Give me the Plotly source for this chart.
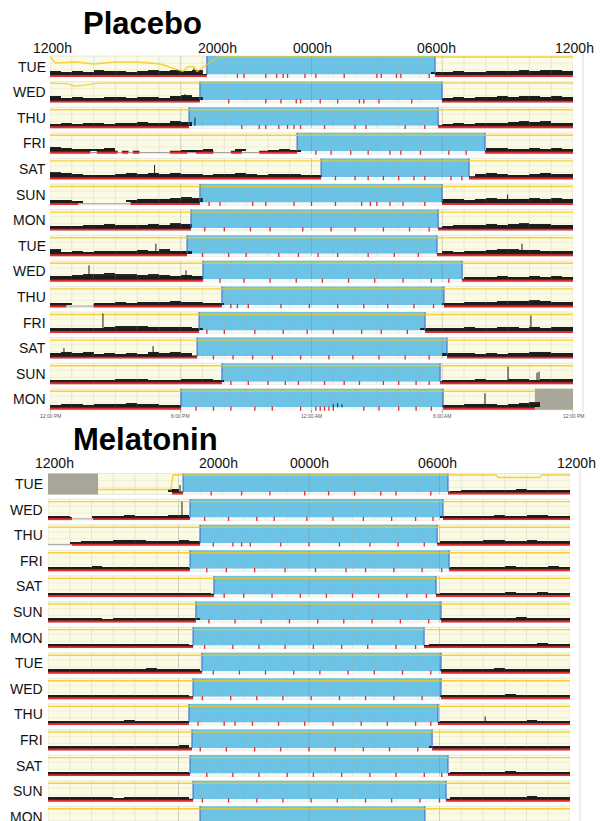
import plotly.graph_objects as go

W, H = 603, 821
FONT = "Liberation Sans, Arial, Helvetica, sans-serif"

# ---------------- data ----------------
days = ["TUE", "WED", "THU", "FRI", "SAT", "SUN", "MON",
        "TUE", "WED", "THU", "FRI", "SAT", "SUN", "MON"]
header_ticks = [0, 8, 12, 18, 24]              # hours after 12:00 noon
header_text = ["1200h", "2000h", "0000h", "0600h", "1200h"]
clock_ticks = [0, 6, 12, 18, 24]
clock_text = ["12:00 PM", "6:00 PM", "12:00 AM", "6:00 AM", "12:00 PM"]

# rest interval (hours after 12:00 noon)
placebo_onset = [7.20, 6.88, 6.38, 11.34, 12.44, 6.88, 6.47, 6.29, 7.02, 7.89, 6.84, 6.75, 7.89, 6.01]
placebo_offset = [17.67, 17.99, 17.81, 19.96, 19.23, 17.99, 17.81, 17.76, 18.91, 18.08, 17.21, 18.22, 17.90, 18.04]
melatonin_onset = [6.21, 6.53, 6.99, 6.53, 7.63, 6.80, 6.67, 7.08, 6.67, 6.48, 6.62, 6.53, 6.67, 6.99]
melatonin_offset = [18.39, 18.16, 17.89, 18.44, 17.84, 18.07, 17.29, 18.07, 18.07, 17.93, 17.66, 18.39, 18.30, 17.33]

# recording limits
placebo_rec_start = [0] * 14
placebo_rec_end = [24] * 13 + [22.25]
melatonin_rec_start = [5.7] + [0] * 13
melatonin_rec_end = [24] * 14

# off-wrist gaps (row, start h, end h)
placebo_gaps = [(3, 1.85, 2.15), (3, 3.1, 3.3), (3, 3.6, 3.8), (3, 4.1, 5.5), (3, 6.3, 6.7),
                (3, 7.5, 8.3), (3, 8.8, 9.6), (5, 1.3, 3.7), (9, 0.75, 2.0)]
melatonin_gaps = [(1, 1.1, 2.07), (2, 0.0, 1.1)]

# unavailable data blocks (row, start h, end h)
placebo_grayboxes = [(13, 22.25, 24)]
melatonin_grayboxes = [(0, 0, 2.3)]

# activity levels in 30-min bins: *_pre starts at 12:00 noon, *_post ends at 12:00 noon
placebo_pre = [
    [3, 2, 3, 2, 4, 3, 3, 2, 3, 4, 3, 4, 3, 4],
    [4, 2, 3, 2, 2, 3, 3, 2, 3, 3, 2, 4, 5, 3],
    [2, 3, 2, 3, 3, 2, 3, 3, 4, 3, 3, 5, 4],
    [4, 3, 2, 2, 2, 3, 4, 4, 0, 1, 2, 0, 1, 1, 2, 1, 1, 2, 1, 0, 1, 2, 1],
    [5, 4, 3, 2, 2, 1, 3, 4, 3, 4, 3, 4, 3, 3, 2, 3, 3, 4, 3, 2, 3, 3, 3, 2, 2],
    [2, 2, 1, 0, 0, 0, 0, 2, 3, 3, 3, 4, 5, 4],
    [2, 2, 2, 3, 3, 4, 3, 3, 3, 4, 3, 5, 4],
    [5, 2, 3, 2, 3, 3, 3, 3, 4, 3, 5, 3, 3],
    [3, 3, 4, 5, 5, 6, 5, 5, 4, 5, 4, 3, 4, 3],
    [2, 1, 0, 0, 2, 2, 3, 2, 3, 3, 3, 4, 3, 3, 2, 2],
    [2, 2, 2, 2, 2, 3, 4, 4, 4, 3, 3, 3, 3, 2],
    [3, 4, 3, 4, 2, 3, 2, 3, 2, 4, 3, 4, 3],
    [2, 2, 2, 2, 2, 2, 3, 3, 3, 2, 2, 2, 3, 3, 3, 2],
    [2, 3, 3, 2, 3, 3, 3, 4, 3, 3, 2, 2],
]
placebo_post = [
    [2, 2, 3, 2, 2, 3, 3, 3, 4, 3, 4, 4, 3],
    [2, 3, 2, 3, 3, 4, 3, 4, 4, 3, 4, 3],
    [2, 3, 2, 3, 3, 3, 4, 5, 4, 5, 3, 3],
    [3, 3, 2, 2, 3, 2, 3, 2],
    [3, 4, 3, 2, 2, 3, 4, 3, 3],
    [3, 3, 2, 3, 4, 3, 3, 3, 4, 3, 4, 3],
    [2, 3, 3, 3, 4, 3, 4, 5, 4, 4, 3, 3],
    [3, 2, 3, 3, 4, 5, 5, 4, 4, 3, 3, 3],
    [2, 2, 2, 3, 2, 2, 3, 2, 3, 2],
    [2, 2, 3, 3, 3, 4, 4, 4, 5, 4, 3, 3],
    [2, 2, 2, 2, 3, 2, 2, 3, 3, 2, 3, 2, 3, 3],
    [3, 3, 3, 2, 3, 2, 3, 3, 4, 4, 3, 3],
    [2, 2, 2, 3, 2, 2, 3, 3, 2, 3, 3, 3],
    [2, 2, 3, 3, 3, 2, 3, 4, 5, 4, 4, 3],
]
melatonin_pre = [
    [0, 0, 0, 0, 0, 0, 0, 0, 0, 0, 0, 3],
    [1, 1, 0, 0, 2, 2, 2, 3, 2, 2, 2, 3, 3],
    [0, 0, 1, 2, 2, 2, 3, 3, 3, 2, 2, 2, 3, 2],
    [2, 2, 2, 2, 3, 2, 2, 2, 2, 2, 2, 2, 2],
    [1, 1, 1, 1, 1, 1, 1, 1, 1, 1, 1, 1, 1, 1, 1],
    [2, 2, 2, 2, 2, 1, 2, 2, 2, 2, 2, 2, 2, 2],
    [2, 2, 1, 2, 2, 2, 2, 2, 2, 2, 2, 2, 2],
    [2, 2, 2, 2, 2, 2, 2, 2, 2, 3, 2, 2, 2, 2],
    [2, 1, 2, 2, 2, 2, 2, 2, 2, 2, 2, 2, 2],
    [2, 2, 2, 2, 2, 2, 2, 3, 2, 2, 2, 2, 2],
    [2, 2, 2, 2, 2, 2, 2, 2, 2, 2, 2, 2, 3],
    [2, 2, 2, 1, 2, 2, 2, 2, 2, 2, 2, 2, 2],
    [2, 2, 2, 2, 2, 2, 1, 2, 2, 2, 2, 2, 2],
    [2, 2, 2, 2, 2, 2, 2, 2, 2, 1, 2, 2, 2, 2],
]
melatonin_post = [
    [1, 2, 2, 2, 2, 2, 3, 2, 2, 2, 2],
    [2, 2, 2, 2, 2, 3, 2, 2, 3, 3, 2, 2],
    [2, 2, 2, 2, 3, 3, 2, 2, 3, 2, 2, 2],
    [2, 2, 2, 2, 2, 3, 2, 2, 2, 3, 2],
    [2, 2, 2, 2, 2, 2, 3, 2, 2, 3, 2, 2],
    [2, 2, 2, 2, 2, 2, 2, 3, 2, 2, 2, 2],
    [2, 2, 2, 2, 2, 2, 2, 2, 2, 2, 3, 2, 2],
    [2, 2, 2, 2, 2, 3, 2, 2, 2, 2, 2, 2],
    [2, 2, 2, 2, 2, 2, 3, 2, 2, 2, 2, 2],
    [2, 2, 2, 2, 2, 2, 2, 2, 3, 2, 2, 2],
    [2, 2, 2, 2, 2, 2, 2, 2, 2, 2, 2, 2, 2],
    [2, 2, 2, 2, 2, 3, 2, 2, 2, 2, 2],
    [2, 2, 2, 2, 2, 2, 2, 3, 2, 2, 2],
    [2, 2, 2, 2, 2, 2, 2, 2, 2, 2, 2, 2, 2],
]

# isolated tall activity counts (row, hour, level)
placebo_spikes = [(0, 6.6, 6), (1, 6.2, 6), (2, 6.65, 8), (4, 4.8, 12), (5, 21.0, 8),
                  (7, 4.86, 10), (7, 21.66, 10), (8, 1.79, 14), (8, 6.24, 9), (10, 2.43, 17),
                  (10, 22.07, 15), (11, 4.73, 10), (11, 0.64, 8), (12, 21.02, 15), (12, 22.35, 9),
                  (12, 22.44, 10), (13, 19.96, 14), (13, 13.0, 3), (13, 13.2, 4), (13, 13.4, 3)]
melatonin_spikes = [(0, 6.07, 7), (1, 6.16, 16), (9, 20.1, 6)]

# wake epochs inside the rest interval (hours)
placebo_wake = [
    [8.6, 8.9, 9.9, 10.4, 10.7, 10.9, 11.7, 12.2, 13.5, 15.0, 15.2, 15.9, 16.1, 17.4],
    [8.2, 9.9, 10.6, 11.3, 11.5, 12.4, 13.2, 14.2, 14.4, 15.1, 16.6],
    [8.8, 9.6, 9.9, 10.5, 10.9, 11.2, 11.5, 12.6, 14.0, 14.5, 16.3, 17.2],
    [12.2, 12.9, 13.8, 14.6, 15.6, 16.1, 17.0, 18.3, 19.1],
    [13.1, 14.0, 14.6, 15.3, 16.0, 16.7, 17.2, 18.4, 18.9],
    [7.3, 7.8, 9.3, 9.9, 11.2, 12.0, 13.1, 14.3, 14.7, 15.0, 15.6, 16.2, 17.2],
    [7.1, 8.0, 9.2, 10.1, 11.6, 12.9, 14.0, 15.3, 16.5, 17.4],
    [7.0, 8.2, 9.0, 10.5, 11.4, 12.3, 13.2, 14.6, 15.8, 16.9],
    [7.8, 8.9, 10.1, 11.3, 12.5, 13.7, 14.9, 16.2, 17.5, 18.3],
    [8.3, 8.6, 9.1, 10.6, 11.9, 13.2, 14.4, 15.5, 16.7, 17.6],
    [7.2, 8.0, 9.4, 10.7, 11.8, 13.0, 14.3, 15.2, 16.4],
    [7.5, 8.4, 9.3, 10.2, 11.5, 12.8, 13.9, 15.1, 16.3, 17.4],
    [8.3, 9.1, 10.0, 10.8, 11.4, 12.6, 13.5, 14.2, 15.3, 16.0, 16.8, 17.4],
    [6.7, 7.5, 8.3, 9.4, 10.2, 11.5, 12.2, 12.4, 12.6, 12.8, 13.0, 14.4, 15.1, 16.0, 16.8, 17.5],
]
melatonin_wake = [
    [7.5, 8.9, 10.2, 11.8, 12.9, 14.1, 15.3, 16.0, 17.6],
    [7.2, 8.3, 9.6, 10.4, 11.9, 13.1, 14.5, 15.8, 16.9, 17.7],
    [7.6, 8.5, 8.9, 9.3, 10.7, 12.0, 13.4, 14.8, 16.1, 17.3],
    [7.3, 8.2, 9.5, 10.9, 12.3, 13.7, 14.6, 15.9, 17.2, 18.1],
    [8.1, 9.0, 10.3, 11.6, 12.8, 14.0, 15.2, 16.5, 17.4],
    [7.4, 8.6, 9.8, 11.1, 12.4, 13.6, 14.9, 16.2, 17.5],
    [7.2, 8.5, 9.7, 10.9, 12.2, 13.5, 14.7, 16.0, 16.9],
    [7.6, 8.8, 10.0, 11.3, 12.5, 13.8, 15.0, 16.3, 17.6],
    [7.1, 8.4, 9.6, 10.8, 12.1, 13.4, 14.6, 15.9, 17.2],
    [6.9, 8.1, 8.6, 9.4, 10.6, 11.8, 13.1, 14.4, 15.6, 16.9, 17.6],
    [7.0, 8.2, 9.5, 10.7, 12.0, 13.2, 14.5, 15.7, 17.0],
    [7.3, 8.5, 9.7, 11.0, 12.2, 13.5, 14.8, 16.0, 17.3, 18.1],
    [7.1, 8.3, 9.6, 10.8, 12.1, 13.3, 14.6, 15.8, 17.1, 18.0],
    [7.4, 8.6, 9.9, 11.1, 12.4, 13.6, 14.9, 16.1, 16.9],
]

# light-level trace: rows with a non-flat profile (hours, depth below row top)
placebo_light = {
    0: ([0, 0.25, 1.2, 2.0, 3.0, 4.0, 5.05, 6.1, 6.3, 6.6, 6.75, 7.7, 24],
        [0.7, 7, 6, 8, 6, 6, 8, 15.5, 11, 10.5, 15.5, 1, 1]),
    1: ([0, 0.8, 1.1, 1.6, 2.2, 24], [1.5, 2, 4.5, 3.5, 1.5, 1.5]),
}
melatonin_light = {
    0: ([2.3, 5.65, 5.75, 20.6, 20.7, 22.6, 22.7, 24], [16, 16, 1.5, 1.5, 4, 4, 1.5, 1.5]),
}

# ---------------- styling / geometry ----------------
PERIOD = 25.6          # px per day row


def u(px):
    return px / PERIOD


ROW_H = u(21)
BLUE_H = u(18.5)
RED_Y = u(19.7)
BASE_Y = u(18.5)
LIGHT_DEPTH = 2.5

CREAM = "#fafae5"
BLUE = "#6bc4e7"
BLUE_EDGE = "#3c6fd4"
RED = "#e52a2a"
YELLOW = "#f5c814"
GRAYBOX = "#a8a799"
INK = "#1c1c1c"

fig = go.Figure()
shapes = []
annotations = []


def subtract(intervals, gaps):
    out = []
    for a, b in intervals:
        segs = [(a, b)]
        for g0, g1 in gaps:
            new = []
            for s0, s1 in segs:
                if g1 <= s0 or g0 >= s1:
                    new.append((s0, s1))
                else:
                    if g0 > s0:
                        new.append((s0, g0))
                    if g1 < s1:
                        new.append((g1, s1))
            segs = new
        out += [s for s in segs if s[1] - s[0] > 1e-6]
    return out


def add_panel(xa, ya, onset, offset, pre, post, rec_start, rec_end, gaps, grayboxes,
              spikes, wake, light):
    xref, yref = xa, ya
    n = len(onset)
    for i in range(n):
        shapes.append(dict(type="rect", xref=xref, yref=yref, x0=0, x1=24, y0=i, y1=i + ROW_H,
                           fillcolor=CREAM, line=dict(color="#dcdccb", width=0.6), layer="below"))
    for r, a, b in grayboxes:
        shapes.append(dict(type="rect", xref=xref, yref=yref, x0=a, x1=b, y0=r, y1=r + ROW_H,
                           fillcolor=GRAYBOX, line=dict(width=0), layer="below"))
    for i in range(n):
        on, off = onset[i], offset[i]
        shapes.append(dict(type="rect", xref=xref, yref=yref, x0=on, x1=off, y0=i, y1=i + BLUE_H,
                           fillcolor=BLUE, line=dict(width=0), layer="below"))
        shapes.append(dict(type="rect", xref=xref, yref=yref, x0=on, x1=off, y0=i + BLUE_H,
                           y1=i + ROW_H, fillcolor="#f6f8f8", line=dict(width=0), layer="below"))

    # grid
    gx, gy, mx, my, hx, hy = [], [], [], [], [], []
    for i in range(n):
        for h in range(1, 24):
            if h % 6 == 0:
                mx += [h, h, None]
                my += [i, i + ROW_H, None]
            else:
                gx += [h, h, None]
                gy += [i, i + ROW_H, None]
        for f in (0.28, 0.55):
            hx += [0, 24, None]
            hy += [i + f, i + f, None]
    fig.add_trace(go.Scatter(x=hx, y=hy, mode="lines", xaxis=xa, yaxis=ya, hoverinfo="skip",
                             line=dict(color="rgba(190,190,160,0.25)", width=0.6)))
    fig.add_trace(go.Scatter(x=gx, y=gy, mode="lines", xaxis=xa, yaxis=ya, hoverinfo="skip",
                             line=dict(color="rgba(170,170,140,0.30)", width=0.7)))
    fig.add_trace(go.Scatter(x=mx, y=my, mode="lines", xaxis=xa, yaxis=ya, hoverinfo="skip",
                             line=dict(color="rgba(120,120,110,0.40)", width=0.8)))

    # blue edges
    ex, ey = [], []
    for i in range(n):
        for h in (onset[i], offset[i]):
            ex += [h, h, None]
            ey += [i, i + BLUE_H, None]
    fig.add_trace(go.Scatter(x=ex, y=ey, mode="lines", xaxis=xa, yaxis=ya, hoverinfo="skip",
                             line=dict(color=BLUE_EDGE, width=1.1)))

    # light trace
    lx, ly = [], []
    for i in range(n):
        if i in light:
            hs, ds = light[i]
        else:
            hs, ds = [rec_start[i], rec_end[i]], [LIGHT_DEPTH, LIGHT_DEPTH]
        lx += list(hs) + [None]
        ly += [i + u(d) for d in ds] + [None]
    fig.add_trace(go.Scatter(x=lx, y=ly, mode="lines", xaxis=xa, yaxis=ya, hoverinfo="skip",
                             opacity=0.8, line=dict(color=YELLOW, width=1.4)))

    # gap lines, baseline, activity
    gpx, gpy, rx, ry, bx, by = [], [], [], [], [], []
    barx, bary, barb = [], [], []
    for i in range(n):
        row_gaps = [(a, b) for r, a, b in gaps if r == i]
        awake = [(rec_start[i], onset[i]), (offset[i], rec_end[i])]
        awake = [(a, b) for a, b in awake if b > a]
        segs = subtract(awake, row_gaps)
        for a, b in row_gaps:
            gpx += [a, b, None]
            gpy += [i + RED_Y, i + RED_Y, None]
        for a, b in segs:
            rx += [a, b, None]
            ry += [i + RED_Y, i + RED_Y, None]
            bx += [a, b, None]
            by += [i + BASE_Y, i + BASE_Y, None]
        bins = [(k * 0.5 + 0.25, v) for k, v in enumerate(pre[i])]
        bins += [((48 - len(post[i]) + k) * 0.5 + 0.25, v) for k, v in enumerate(post[i])]
        for c, v in bins:
            if v <= 0:
                continue
            if not any(a <= c <= b for a, b in segs):
                continue
            barx.append(c)
            bary.append(-u(v))
            barb.append(i + BASE_Y)
    fig.add_trace(go.Scatter(x=gpx, y=gpy, mode="lines", xaxis=xa, yaxis=ya, hoverinfo="skip",
                             line=dict(color="#8c8c8c", width=0.8)))
    fig.add_trace(go.Scatter(x=rx, y=ry, mode="lines", xaxis=xa, yaxis=ya, hoverinfo="skip",
                             line=dict(color=RED, width=2.6)))
    fig.add_trace(go.Bar(x=barx, y=bary, base=barb, width=0.5, xaxis=xa, yaxis=ya,
                         hoverinfo="skip", marker=dict(color=INK, line=dict(width=0))))
    fig.add_trace(go.Scatter(x=bx, y=by, mode="lines", xaxis=xa, yaxis=ya, hoverinfo="skip",
                             line=dict(color=INK, width=1.1)))

    # spikes
    sx, sy = [], []
    for r, h, v in spikes:
        sx += [h, h, None]
        sy += [r + BASE_Y, r + BASE_Y - u(v), None]
    fig.add_trace(go.Scatter(x=sx, y=sy, mode="lines", xaxis=xa, yaxis=ya, hoverinfo="skip",
                             line=dict(color=INK, width=1)))

    # wake epochs during rest
    wx, wy = [], []
    for i in range(n):
        for h in wake[i]:
            if onset[i] < h < offset[i]:
                wx.append(h)
                wy.append(i + u(19.8))
    fig.add_trace(go.Scatter(x=wx, y=wy, mode="markers", xaxis=xa, yaxis=ya, hoverinfo="skip",
                             marker=dict(symbol="line-ns", size=3,
                                         line=dict(color=RED, width=1.3))))


add_panel("x", "y", placebo_onset, placebo_offset, placebo_pre, placebo_post,
          placebo_rec_start, placebo_rec_end, placebo_gaps, placebo_grayboxes,
          placebo_spikes, placebo_wake, placebo_light)
add_panel("x2", "y2", melatonin_onset, melatonin_offset, melatonin_pre, melatonin_post,
          melatonin_rec_start, melatonin_rec_end, melatonin_gaps, melatonin_grayboxes,
          melatonin_spikes, melatonin_wake, melatonin_light)

# placebo small clock axis ticks
tx, ty = [], []
for h in clock_ticks:
    tx += [h, h, None]
    ty += [u(410 - 56), u(413 - 56), None]
fig.add_trace(go.Scatter(x=tx, y=ty, mode="lines", xaxis="x", yaxis="y", hoverinfo="skip",
                         line=dict(color="#777777", width=0.7)))

# ---------------- layout ----------------
P_TOP, M_TOP = 56.0, 473.5
p_vmin, p_vmax = -0.35, 14.5
m_vmin = -0.3
m_vmax = (H - M_TOP) / PERIOD
p_dom = [1 - (P_TOP + p_vmax * PERIOD) / H, 1 - (P_TOP + p_vmin * PERIOD) / H]
m_dom = [0, 1 - (M_TOP + m_vmin * PERIOD) / H]


def ypx(px):
    return 1 - px / H


for i, d in enumerate(days):
    annotations.append(dict(text=d, xref="paper", yref="y", x=48 / W, y=i + ROW_H / 2,
                            xanchor="right", yanchor="middle", showarrow=False,
                            font=dict(family=FONT, size=14, color="#111")))
    annotations.append(dict(text=d, xref="paper", yref="y2", x=45 / W, y=i + ROW_H / 2,
                            xanchor="right", yanchor="middle", showarrow=False,
                            font=dict(family=FONT, size=14, color="#111")))

p_shift = [2, -7, 1, -6, 1]
m_shift = [6, -4, 0, -2, 6]
for h, t, s in zip(header_ticks, header_text, p_shift):
    annotations.append(dict(text=t, xref="x", yref="paper", x=h, y=ypx(48), xshift=s,
                            xanchor="center", yanchor="middle", showarrow=False,
                            font=dict(family=FONT, size=14, color="#111")))
for h, t, s in zip(header_ticks, header_text, m_shift):
    annotations.append(dict(text=t, xref="x2", yref="paper", x=h, y=ypx(463), xshift=s,
                            xanchor="center", yanchor="middle", showarrow=False,
                            font=dict(family=FONT, size=14, color="#111")))
for h, t in zip(clock_ticks, clock_text):
    annotations.append(dict(text=t, xref="x", yref="paper", x=h, y=ypx(416),
                            xanchor="center", yanchor="middle", showarrow=False,
                            font=dict(family=FONT, size=5, color="#555")))

annotations.append(dict(text="<b>Placebo</b>", xref="paper", yref="paper", x=142 / W, y=ypx(24),
                        xanchor="center", yanchor="middle", showarrow=False,
                        font=dict(family=FONT, size=31, color="#000")))
annotations.append(dict(text="<b>Melatonin</b>", xref="paper", yref="paper", x=145 / W, y=ypx(439),
                        xanchor="center", yanchor="middle", showarrow=False,
                        font=dict(family=FONT, size=31, color="#000")))

# faint page frame lines on the right
shapes.append(dict(type="line", xref="paper", yref="paper", x0=583 / W, x1=583 / W,
                   y0=ypx(412), y1=ypx(50), line=dict(color="#dddddd", width=1)))
shapes.append(dict(type="line", xref="paper", yref="paper", x0=580 / W, x1=580 / W,
                   y0=0, y1=ypx(470), line=dict(color="#dddddd", width=1)))

fig.update_layout(
    width=W, height=H, margin=dict(l=0, r=0, t=0, b=0),
    paper_bgcolor="white", plot_bgcolor="rgba(0,0,0,0)",
    showlegend=False, barmode="overlay", bargap=0,
    shapes=shapes, annotations=annotations,
    xaxis=dict(domain=[50 / W, 573 / W], range=[0, 24], visible=False, anchor="y", fixedrange=True),
    yaxis=dict(domain=p_dom, range=[p_vmax, p_vmin], visible=False, anchor="x", fixedrange=True),
    xaxis2=dict(domain=[48 / W, 570 / W], range=[0, 24], visible=False, anchor="y2", fixedrange=True),
    yaxis2=dict(domain=m_dom, range=[m_vmax, m_vmin], visible=False, anchor="x2", fixedrange=True),
)

fig.write_html("out.html", config={"displayModeBar": False},
               post_script="document.body.style.margin='0';document.body.style.overflow='hidden';")
